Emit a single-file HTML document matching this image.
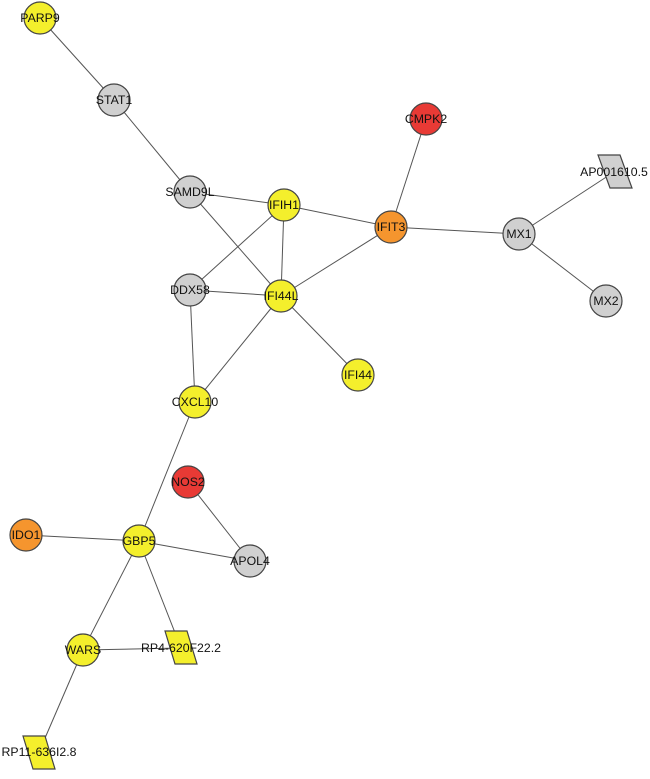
<!DOCTYPE html>
<html><head><style>body{margin:0;background:#fff}svg{display:block}</style></head><body>
<svg width="650" height="779" xmlns="http://www.w3.org/2000/svg" font-family="Liberation Sans, sans-serif" font-size="12.3">
<g stroke="#555" stroke-width="1">
<line x1="40" y1="18" x2="114" y2="100"/>
<line x1="114" y1="100" x2="190" y2="192"/>
<line x1="190" y1="192" x2="284" y2="205"/>
<line x1="190" y1="192" x2="281" y2="296"/>
<line x1="284" y1="205" x2="391" y2="227"/>
<line x1="284" y1="205" x2="190" y2="290"/>
<line x1="284" y1="205" x2="281" y2="296"/>
<line x1="426" y1="119" x2="391" y2="227"/>
<line x1="391" y1="227" x2="519" y2="234"/>
<line x1="391" y1="227" x2="281" y2="296"/>
<line x1="519" y1="234" x2="614" y2="172"/>
<line x1="519" y1="234" x2="606" y2="301"/>
<line x1="190" y1="290" x2="281" y2="296"/>
<line x1="190" y1="290" x2="195" y2="402"/>
<line x1="281" y1="296" x2="358" y2="375"/>
<line x1="281" y1="296" x2="195" y2="402"/>
<line x1="195" y1="402" x2="139" y2="541"/>
<line x1="188" y1="482" x2="250" y2="561"/>
<line x1="26" y1="535" x2="139" y2="541"/>
<line x1="139" y1="541" x2="250" y2="561"/>
<line x1="139" y1="541" x2="83" y2="650"/>
<line x1="139" y1="541" x2="181" y2="648"/>
<line x1="83" y1="650" x2="181" y2="648"/>
<line x1="83" y1="650" x2="39" y2="752"/>
</g>
<g stroke="#444" stroke-width="1.2">
<circle cx="40" cy="18" r="16" fill="#f4ef2c"/>
<circle cx="114" cy="100" r="16" fill="#d0d0d0"/>
<circle cx="426" cy="119" r="16" fill="#e83a35"/>
<circle cx="190" cy="192" r="16" fill="#d0d0d0"/>
<circle cx="284" cy="205" r="16" fill="#f4ef2c"/>
<circle cx="391" cy="227" r="16" fill="#f5952e"/>
<circle cx="519" cy="234" r="16" fill="#d0d0d0"/>
<circle cx="190" cy="290" r="16" fill="#d0d0d0"/>
<circle cx="281" cy="296" r="16" fill="#f4ef2c"/>
<circle cx="606" cy="301" r="16" fill="#d0d0d0"/>
<circle cx="358" cy="375" r="16" fill="#f4ef2c"/>
<circle cx="195" cy="402" r="16" fill="#f4ef2c"/>
<circle cx="188" cy="482" r="16" fill="#e83a35"/>
<circle cx="26" cy="535" r="16" fill="#f5952e"/>
<circle cx="139" cy="541" r="16" fill="#f4ef2c"/>
<circle cx="250" cy="561" r="16" fill="#d0d0d0"/>
<circle cx="83" cy="650" r="16" fill="#f4ef2c"/>
<polygon points="598,155 620,155 632,188 610,188" fill="#d0d0d0"/>
<polygon points="165,631 187,631 197,664 175,664" fill="#f4ef2c"/>
<polygon points="23,736 45,736 55,769 33,769" fill="#f4ef2c"/>
</g>
<g fill="#111" text-anchor="middle" dominant-baseline="central">
<text x="40" y="18">PARP9</text>
<text x="114" y="100">STAT1</text>
<text x="426" y="119">CMPK2</text>
<text x="190" y="192">SAMD9L</text>
<text x="284" y="205">IFIH1</text>
<text x="391" y="227">IFIT3</text>
<text x="519" y="234">MX1</text>
<text x="190" y="290">DDX58</text>
<text x="281" y="296">IFI44L</text>
<text x="606" y="301">MX2</text>
<text x="358" y="375">IFI44</text>
<text x="195" y="402">CXCL10</text>
<text x="188" y="482">NOS2</text>
<text x="26" y="535">IDO1</text>
<text x="139" y="541">GBP5</text>
<text x="250" y="561">APOL4</text>
<text x="83" y="650">WARS</text>
<text x="614" y="172">AP001610.5</text>
<text x="181" y="648">RP4-620F22.2</text>
<text x="39" y="752">RP11-636I2.8</text>
</g>
</svg>
</body></html>
